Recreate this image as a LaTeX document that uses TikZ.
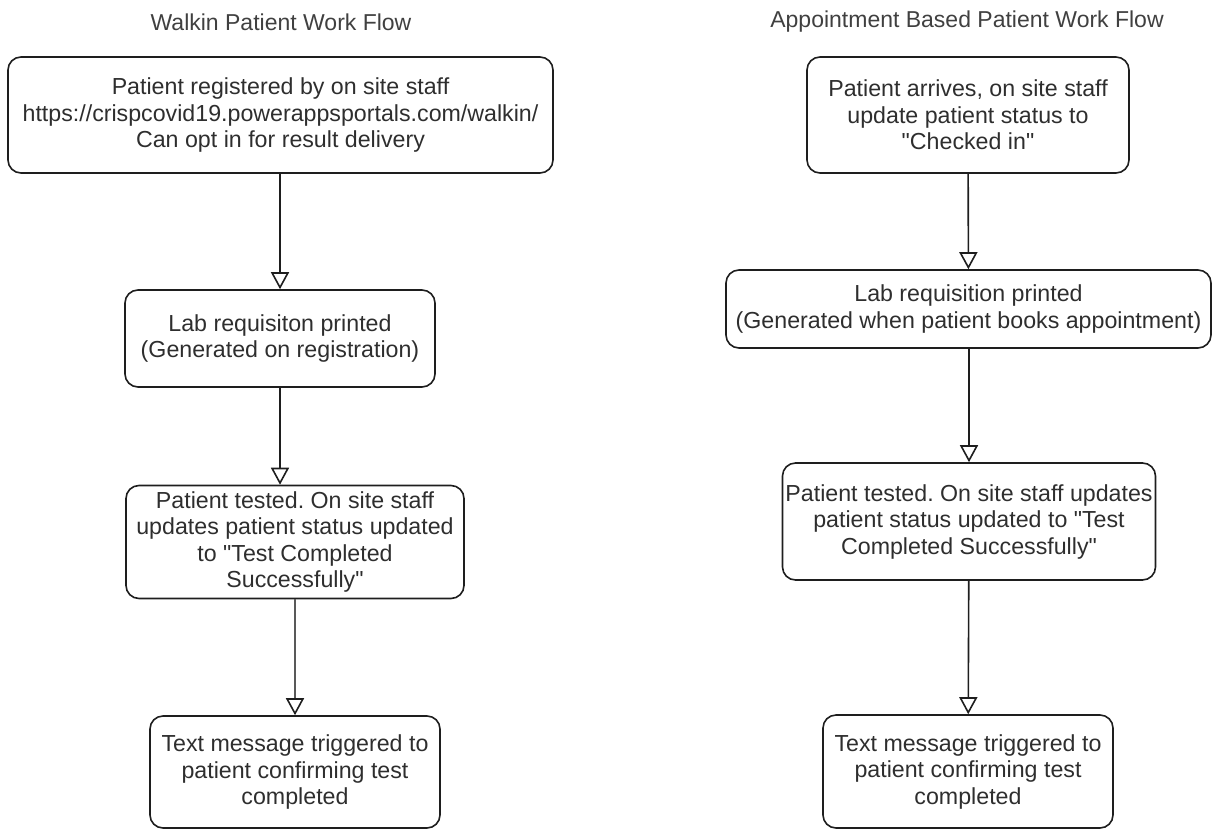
\documentclass[tikz,border=0pt]{standalone}
\usepackage{fontspec}
\newfontfamily\boxfont{Liberation Sans}
\usetikzlibrary{arrows.meta}
\definecolor{txt}{HTML}{2E2E2E}
\definecolor{ttl}{HTML}{404040}
\definecolor{edge}{HTML}{1E1E1E}
\frenchspacing
\begin{document}
\begin{tikzpicture}[x=1pt,y=-1pt,
  flowbox/.style={draw=edge, line width=1.6pt, rounded corners=13pt, align=center,
    inner sep=0pt, text=txt, font=\boxfont\fontsize{23.2}{26.5}\selectfont\frenchspacing},
  titletext/.style={text=ttl, font=\boxfont\fontsize{23}{26}\selectfont, inner sep=0pt},
  flow/.style={draw=edge, line width=1.6pt, -{Triangle[open, length=17pt, width=18pt, line width=1.6pt, color=edge]}}
]
\useasboundingbox (0,0) rectangle (1212,830);
\node[titletext] (t1) at (281,22) {Walkin Patient Work Flow};
\node[titletext] (t2) at (967,22) {Appointment Based Patient Work Flow};

\node[flowbox, minimum width=545pt, minimum height=116pt] (L1) at (280.5,115)
  {Patient registered by on site staff\\https://crispcovid19.powerappsportals.com/walkin/\\Can opt in for result delivery};
\node[flowbox, minimum width=310pt, minimum height=97pt] (L2) at (280,338.5)
  {Lab requisiton printed\\(Generated on registration)};
\node[flowbox, minimum width=338pt, minimum height=113pt] (L3) at (295,542)
  {Patient tested. On site staff\\updates patient status updated\\to "Test Completed\\Successfully"};
\node[flowbox, minimum width=290pt, minimum height=112pt] (L4) at (295,772)
  {Text message triggered to\\patient confirming test\\completed};

\node[flowbox, minimum width=322pt, minimum height=116pt] (R1) at (968,115)
  {Patient arrives, on site staff\\update patient status to\\"Checked in"};
\node[flowbox, minimum width=485pt, minimum height=78pt] (R2) at (968.5,309)
  {Lab requisition printed\\(Generated when patient books appointment)};
\node[flowbox, minimum width=373pt, minimum height=117pt] (R3) at (969,521.5)
  {Patient tested. On site staff updates\\patient status updated to "Test\\Completed Successfully"};
\node[flowbox, minimum width=290pt, minimum height=113pt] (R4) at (968,771.5)
  {Text message triggered to\\patient confirming test\\completed};

\draw[flow] (L1.south -| L2.north) -- (L2.north);
\draw[flow] (L2.south) -- (L2.south |- L3.north);
\draw[flow, draw=gray!70!black, line width=2.6pt] (L3) -- (L4);
\draw[flow] (R1) -- (R2);
\draw[flow] (R2.south -| R3.north) -- (R3.north);
\draw[flow] (R3) -- (R4);
\end{tikzpicture}
\end{document}
